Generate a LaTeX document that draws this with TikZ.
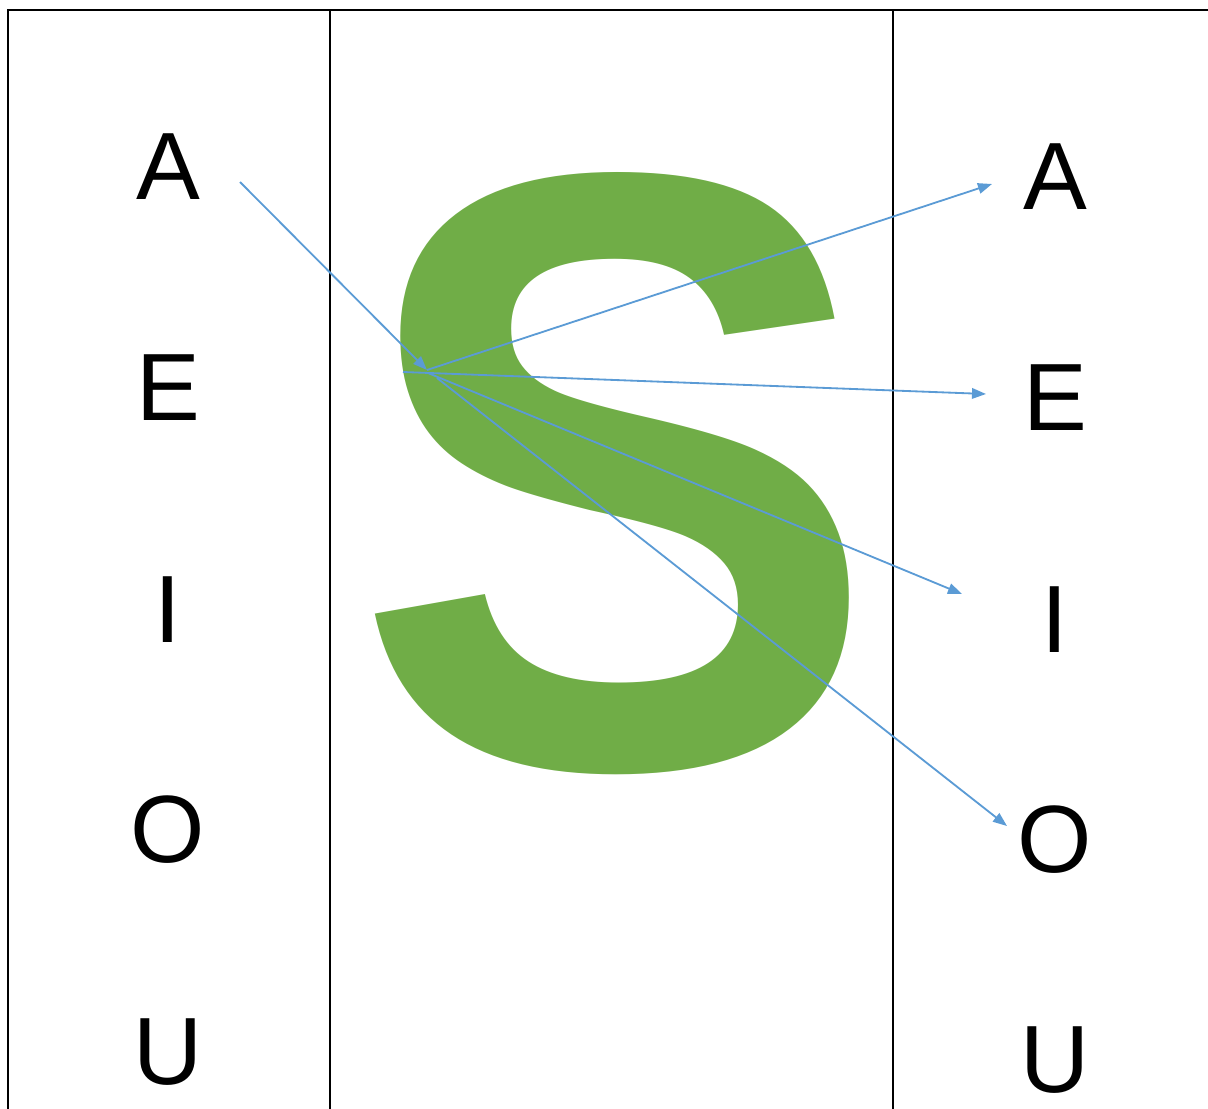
\documentclass[tikz,border=0pt]{standalone}
\usepackage{fontspec}
\setmainfont{Liberation Sans}
\usetikzlibrary{arrows.meta}
\definecolor{sgreen}{HTML}{70AD47}
\definecolor{linkblue}{HTML}{5B9BD5}

\begin{document}
\begin{tikzpicture}[x=0.025cm,y=-0.025cm,
  vowel/.style={font=\fontsize{68}{68}\selectfont,inner sep=0pt},
  rule/.style={line width=1.5pt},
  link/.style={linkblue,line width=1.3pt,-{Triangle[length=10pt,width=7.5pt]}}]
  \useasboundingbox (0,0) rectangle (1208,1109);
  % table rules
  \draw[rule] (8,1109) -- (8,10) -- (1208,10);
  \draw[rule] (330,10) -- (330,1109);
  \draw[rule] (893,10) -- (893,1109);
  % big S
  \node[sgreen,inner sep=0pt,font=\fontsize{605}{605}\selectfont\bfseries] (bigS) at (616,474) {\scalebox{0.93}[1]{S}};
  % left vowels
  \node[vowel] (lA) at (168,167) {A};
  \node[vowel] (lE) at (168,388) {E};
  \node[vowel] (lI) at (168,610) {I};
  \node[vowel] (lO) at (168,830) {O};
  \node[vowel] (lU) at (168,1052) {U};
  % right vowels
  \node[vowel] (rA) at (1055,177) {A};
  \node[vowel] (rE) at (1055,398) {E};
  \node[vowel] (rI) at (1055,620) {I};
  \node[vowel] (rO) at (1055,840) {O};
  \node[vowel] (rU) at (1055,1060) {U};
  % arrows
  \coordinate (srcA) at (240,182);
  \coordinate (hub) at (427,370);
  \coordinate (hubE) at (403,372);
  \coordinate (hubI) at (428,373);
  \coordinate (hubO) at (437,378);
  \coordinate (tipA) at (992,184);
  \coordinate (tipE) at (986,394);
  \coordinate (tipI) at (962,594);
  \coordinate (tipO) at (1007,826);
  \draw[link] (srcA) -- (hub);
  \draw[link] (hub) -- (tipA);
  \draw[link] (hubE) -- (tipE);
  \draw[link] (hubI) -- (tipI);
  \draw[link] (hubO) -- (tipO);
\end{tikzpicture}
\end{document}
